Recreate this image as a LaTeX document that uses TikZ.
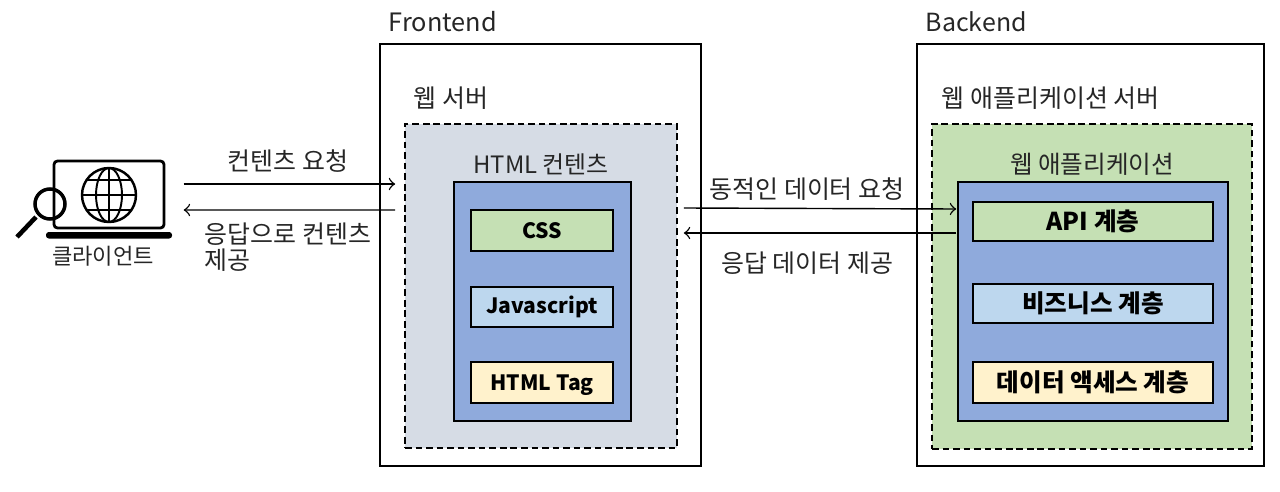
\documentclass[tikz,border=0pt]{standalone}
\usepackage{fontspec}
\setmainfont{Noto Sans CJK KR}
\usetikzlibrary{arrows}
\definecolor{greybox}{HTML}{D6DCE5}
\definecolor{bluebox}{HTML}{8FAADC}
\definecolor{greenbox}{HTML}{C5E0B4}
\definecolor{skybox}{HTML}{BDD7EE}
\definecolor{yellowbox}{HTML}{FFF2CC}
\tikzset{
  label text/.style={font=\fontsize{7.1}{7.4}\selectfont, inner sep=0pt, text=black!85},
  box/.style={rectangle, draw, line width=.45pt, inner sep=0pt, font=\fontsize{7}{7.4}\selectfont\bfseries},
  latin box/.style={box, font=\fontsize{6}{7.4}\selectfont\bfseries},
  dashbox/.style={box, dashed, dash pattern=on 1.9pt off 1.1pt},
  flow/.style={->, line width=.4pt}
}

\begin{document}
\begin{tikzpicture}
      \useasboundingbox (0, 0) rectangle (12.8, -4.91);
      \node [box, minimum width=3.21cm, minimum height=4.22cm] (frontend) at (5.405, -2.55) {};
      \node [box, minimum width=3.47cm, minimum height=4.22cm] (backend) at (10.905, -2.55) {};
      \node [dashbox, fill=greybox, minimum width=2.72cm, minimum height=3.24cm] (webcontent) at (5.41, -2.86) {};
      \node [dashbox, fill=greenbox, minimum width=3.20cm, minimum height=3.25cm] (webapp) at (10.92, -2.865) {};
      \node [box, fill=bluebox, minimum width=1.77cm, minimum height=2.39cm] (htmlbox) at (5.425, -3.015) {};
      \node [box, fill=bluebox, minimum width=2.70cm, minimum height=2.39cm] (layers) at (10.93, -3.015) {};
      \node [latin box, fill=greenbox, minimum width=1.42cm, minimum height=.41cm] (css) at (5.42, -2.305) {CSS};
      \node [latin box, fill=skybox, minimum width=1.42cm, minimum height=.40cm] (javascript) at (5.42, -3.07) {Javascript};
      \node [latin box, fill=yellowbox, minimum width=1.42cm, minimum height=.41cm, text depth=0pt] (htmltag) at (5.42, -3.825) {HTML Tag};
      \node [box, fill=greenbox, minimum width=2.40cm, minimum height=.39cm] (api) at (10.93, -2.215) {API 계층};
      \node [box, fill=skybox, minimum width=2.40cm, minimum height=.39cm] (business) at (10.93, -3.035) {비즈니스 계층};
      \node [box, fill=yellowbox, minimum width=2.40cm, minimum height=.41cm] (dataaccess) at (10.93, -3.825) {데이터 액세스 계층};
      \node [label text, font=\fontsize{7.2}{7.4}\selectfont, anchor=west] (frontendtitle) at (3.88, -.22) {Frontend};
      \node [label text, anchor=west] (backendtitle) at (9.25, -.22) {Backend};
      \node [label text, anchor=west] (webserver) at (4.13, -.98) {웹 서버};
      \node [label text, anchor=west] (appserver) at (9.41, -.98) {웹 애플리케이션 서버};
      \node [label text, font=\fontsize{6.8}{7.4}\selectfont] (contenttitle) at (5.41, -1.64) {HTML 컨텐츠};
      \node [label text, font=\fontsize{7}{7.4}\selectfont] (apptitle) at (10.92, -1.64) {웹 애플리케이션};
      \node [label text, font=\fontsize{6.3}{7.4}\selectfont] (clientlabel) at (1.03, -2.56) {클라이언트};
      \node [label text] (request) at (2.88, -1.61) {컨텐츠 요청};
      \node [label text, anchor=west, align=left] (response) at (2.04, -2.47) {응답으로 컨텐츠\\제공};
      \node [label text] (datarequest) at (8.07, -1.89) {동적인 데이터 요청};
      \node [label text] (dataresponse) at (8.07, -2.63) {응답 데이터 제공};
      % client icon
      \node [minimum width=1.66cm, minimum height=.82cm, inner sep=0pt] (client) at (1.0, -1.97) {};
      \draw [line width=.8pt, rounded corners=1pt] (.54, -1.61) rectangle (1.64, -2.28);
      \fill [rounded corners=.8pt] (.46, -2.32) rectangle (1.72, -2.385);
      \draw [line width=.7pt] (1.09, -1.95) circle (.27);
      \draw [line width=.55pt] (1.09, -1.95) ellipse (.13 and .27);
      \draw [line width=.55pt] (1.09, -1.68) -- (1.09, -2.22);
      \draw [line width=.55pt] (.82, -1.95) -- (1.36, -1.95);
      \draw [line width=.55pt] (.87, -1.80) -- (1.31, -1.80);
      \draw [line width=.55pt] (.87, -2.10) -- (1.31, -2.10);
      \draw [line width=1pt] (.50, -2.04) circle (.15);
      \draw [line width=1.3pt] (.36, -2.17) -- (.17, -2.37);
      % connectors
      \draw [flow] ([yshift=.13cm]client.east) -- ([xshift=-.09cm, yshift=1.02cm]webcontent.west);
      \draw [flow] ([xshift=-.09cm, yshift=.76cm]webcontent.west) -- ([yshift=-.13cm]client.east);
      \draw [flow] ([xshift=.06cm, yshift=.78cm]webcontent.east) -- ([xshift=-.01cm, yshift=.925cm]layers.west);
      \draw [flow] ([xshift=-.01cm, yshift=.685cm]layers.west) -- ([xshift=.06cm, yshift=.53cm]webcontent.east);
    \end{tikzpicture}
\end{document}
